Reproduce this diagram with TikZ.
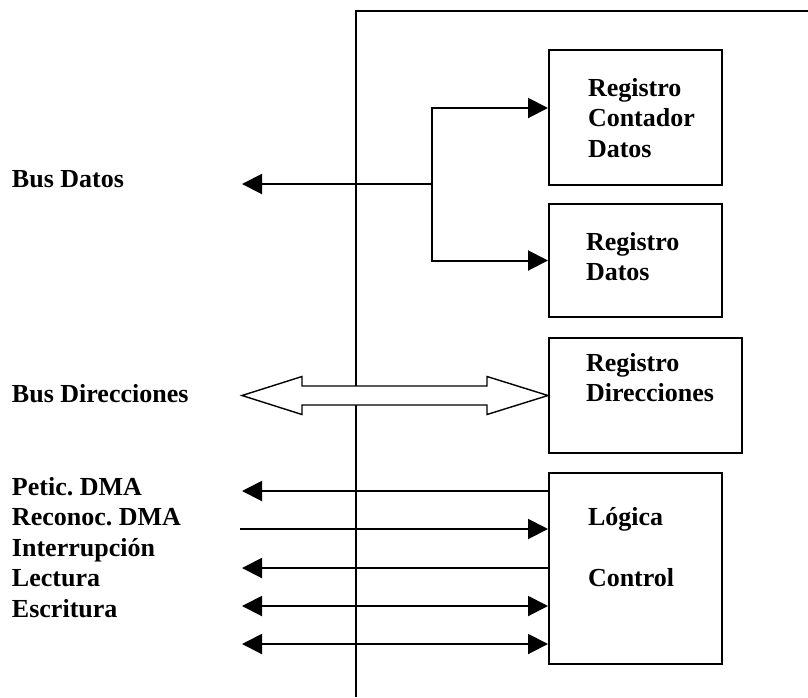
\documentclass[tikz,border=0pt]{standalone}
\usepackage{fontspec}
\setmainfont{Liberation Serif}
\usetikzlibrary{arrows.meta,positioning}
\frenchspacing

\begin{document}
\begin{tikzpicture}[x=1pt, y=-1pt, line width=2pt,
    every node/.style={font=\fontsize{26}{30.5}\selectfont\bfseries},
    reg/.style={draw, rectangle, inner sep=0pt, anchor=north west},
    txt/.style={inner sep=0pt, anchor=north west, align=left},
    arr/.style={-{Triangle[length=20pt,width=20pt]}},
    darr/.style={{Triangle[length=20pt,width=20pt]}-{Triangle[length=20pt,width=20pt]}}]
    \useasboundingbox (0,0) rectangle (808,697);
    \draw (356,697) -- (356,11) -- (808,11);
    \node[reg, minimum width=173pt, minimum height=135pt] (rcd) at (548,49) {};
    \node[reg, minimum width=173pt, minimum height=113pt] (rd) at (548,203) {};
    \node[reg, minimum width=193pt, minimum height=115pt] (rdir) at (548,337) {};
    \node[reg, minimum width=173pt, minimum height=191pt] (ctl) at (548,472) {};
    \node[txt] (trcd) at ([shift={(39,28)}]rcd.north west) {Registro\\Contador\\Datos};
    \node[txt] (trd) at ([shift={(37,28)}]rd.north west) {Registro\\Datos};
    \node[txt] (trdir) at ([shift={(37,15)}]rdir.north west) {Registro\\Direcciones};
    \node[txt] (tctl) at ([shift={(39,34)}]ctl.north west) {Lógica\\[31pt]Control};
    \node[anchor=base west, inner sep=0pt] (busd) at (11,187) {Bus Datos};
    \node[anchor=base west, inner sep=0pt] (busdir) at (11,402) {Bus Direcciones};
    \node[txt] (senal) at (11,476) {Petic. DMA\\Reconoc. DMA\\Interrupción\\Lectura\\Escritura};
    \coordinate (jn) at (432,184);
    \coordinate (bd) at (242,184);
    \draw[arr] (jn) -- (bd);
    \draw[arr] (jn) |- ([yshift=9.5pt]rcd.west);
    \draw[arr] (jn) |- (rd.west);
    \draw[fill=white, line width=1.4pt] (rdir.west) -- ++(-61,-19) -- ++(0,9.5) -- ++(-185,0) -- ++(0,-9.5) -- ++(-60,19)
        -- ++(60,19) -- ++(0,-9.5) -- ++(185,0) -- ++(0,9.5) -- cycle;
    \coordinate (pet) at (242,491);
    \coordinate (rec) at (240,529);
    \coordinate (int) at (242,568);
    \coordinate (lec) at (242,606);
    \coordinate (esc) at (242,644);
    \draw[arr] (ctl.west |- pet) -- (pet);
    \draw[arr] (rec) -- (ctl.west |- rec);
    \draw[arr] (ctl.west |- int) -- (int);
    \draw[darr] (lec) -- (ctl.west |- lec);
    \draw[darr] (esc) -- (ctl.west |- esc);
\end{tikzpicture}
\end{document}
